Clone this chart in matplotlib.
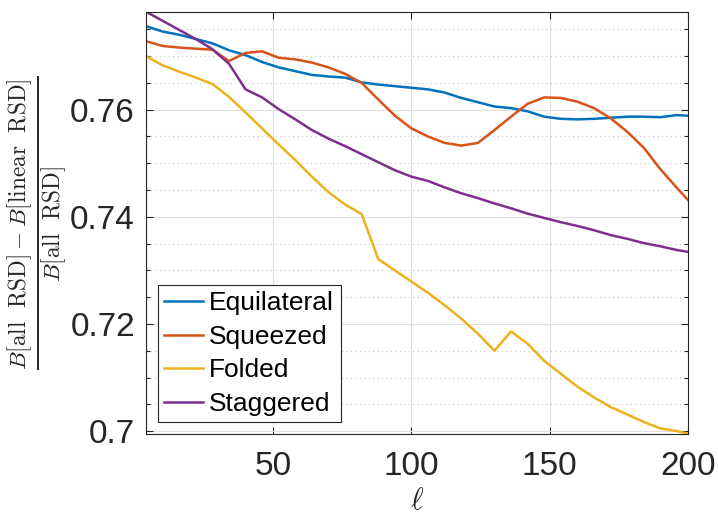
import numpy as np
import matplotlib
matplotlib.use("Agg")
import matplotlib.pyplot as plt
from matplotlib.ticker import MultipleLocator

ell = list(range(4, 203, 6))

equilateral = [0.7756, 0.7746, 0.7740, 0.7732, 0.7724, 0.7711, 0.7702, 0.7689, 0.7679, 0.7672,
               0.7665, 0.7662, 0.7660, 0.7651, 0.7647, 0.7644, 0.7641, 0.7638, 0.7632, 0.7622,
               0.7614, 0.7606, 0.7603, 0.7597, 0.7587, 0.7583, 0.7582, 0.7583, 0.7585, 0.7587,
               0.7587, 0.7586, 0.7590, 0.7588]
squeezed = [0.7728, 0.7719, 0.7716, 0.7714, 0.7712, 0.7691, 0.7706, 0.7709, 0.7697, 0.7694,
            0.7688, 0.7679, 0.7667, 0.7650, 0.7619, 0.7589, 0.7565, 0.7550, 0.7538, 0.7533,
            0.7538, 0.7562, 0.7587, 0.7611, 0.7623, 0.7622, 0.7615, 0.7603, 0.7584, 0.7559,
            0.7529, 0.7489, 0.7454, 0.7420]
folded = [0.7700, 0.7683, 0.7671, 0.7660, 0.7648, 0.7624, 0.7595, 0.7565, 0.7535, 0.7506,
          0.7475, 0.7446, 0.7423, 0.7405, 0.7321, 0.7300, 0.7279, 0.7258, 0.7235, 0.7210,
          0.7182, 0.7150, 0.7186, 0.7163, 0.7131, 0.7107, 0.7083, 0.7063, 0.7045, 0.7031,
          0.7017, 0.7005, 0.7000, 0.6993]
staggered = [0.7783, 0.7766, 0.7749, 0.7732, 0.7713, 0.7686, 0.7638, 0.7623, 0.7601, 0.7582,
             0.7562, 0.7546, 0.7532, 0.7517, 0.7502, 0.7487, 0.7475, 0.7467, 0.7455, 0.7444,
             0.7435, 0.7425, 0.7416, 0.7406, 0.7398, 0.7390, 0.7383, 0.7375, 0.7366, 0.7359,
             0.7351, 0.7345, 0.7338, 0.7333]

labels = ["Equilateral", "Squeezed", "Folded", "Staggered"]
colors = ["#0072BD", "#D95319", "#EDB120", "#7E2F8E"]
xticks = [50, 100, 150, 200]
yticks = [0.70, 0.72, 0.74, 0.76]
yticklabels = ["0.7", "0.72", "0.74", "0.76"]

plt.rcParams['font.family'] = ['Liberation Sans', 'DejaVu Sans']
plt.rcParams['mathtext.fontset'] = 'cm'

fig = plt.figure(figsize=(7.18, 5.16), dpi=100)
ax = fig.add_axes([146/718, 1-434.3/516, (688-146)/718, (434.3-11.7)/516])

for ys, lab, c in zip([equilateral, squeezed, folded, staggered], labels, colors):
    ax.plot(ell, ys, color=c, lw=1.8, label=lab)

ax.set_xlim(4, 200)
ax.set_ylim(0.6994, 0.7783)
ax.set_xticks(xticks)
ax.set_yticks(yticks)
ax.set_yticklabels(yticklabels)
ax.yaxis.set_minor_locator(MultipleLocator(0.005))

ax.grid(True, which='major', color='#e0e0e0', lw=0.8, ls='-')
ax.grid(True, which='minor', axis='y', color='#c8c8c8', lw=0.8, ls=(0, (1, 3)))
ax.set_axisbelow(True)

for s in ax.spines.values():
    s.set_color('#262626')
    s.set_linewidth(0.8)
ax.tick_params(which='both', direction='in', top=True, right=True, colors='#262626',
               labelsize=24, width=0.8)
ax.tick_params(which='major', length=5, pad=8)
ax.tick_params(axis='x', which='major', pad=12)
ax.tick_params(which='minor', length=3)
ax.tick_params(axis='x', which='minor', bottom=False, top=False)

leg = ax.legend(loc='lower left', fontsize=19, frameon=True, fancybox=False,
                edgecolor='#262626', framealpha=1, handlelength=1.45, handletextpad=0.25,
                labelspacing=0.36, borderpad=0.25, borderaxespad=0.45)
leg.get_frame().set_linewidth(0.8)

fig.text(38/718, 1-223/516,
         r"$\frac{B[\mathrm{all\ \ RSD}]-B[\mathrm{linear\ \ RSD}]}{B[\mathrm{all\ \ RSD}]}$",
         rotation=90, ha='center', va='center', fontsize=24, color='#262626')
fig.text(417/718, 1-486/516, r"$\ell$", ha='center', va='top', fontsize=22, color='#262626')

fig.savefig("out.png", dpi=100)
